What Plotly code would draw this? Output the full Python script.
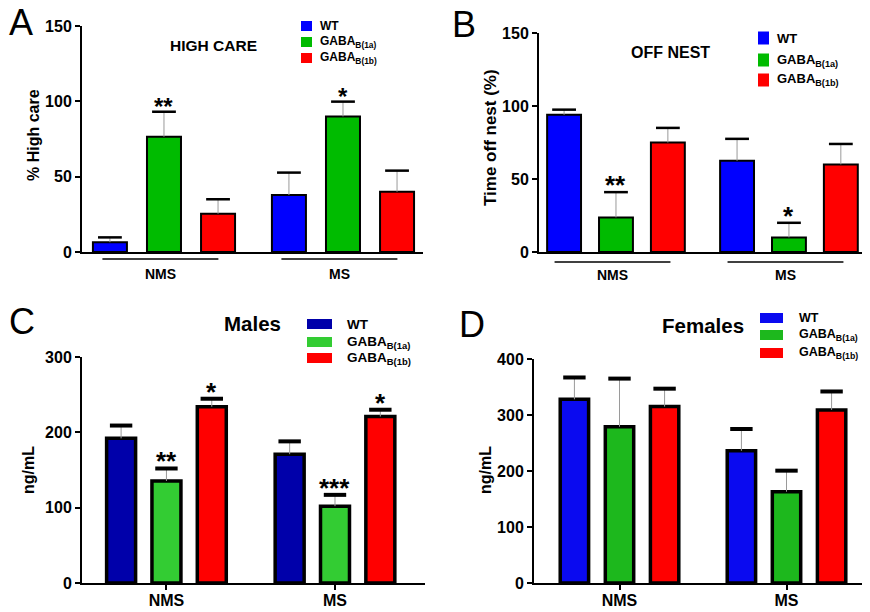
import plotly.graph_objects as go

# The page body has an 8px margin, so the figure is drawn 8px in from the window edge.
OFF = 8
W, H = 870 - OFF, 612 - OFF
FONT = "Liberation Sans, Arial, sans-serif"

groups = ["NMS", "MS"]
genotype_labels = ["WT", "GABA<sub>B(1a)</sub>", "GABA<sub>B(1b)</sub>"]

# ---------------- data ----------------
# Panel A: % High care
a_wt = [6.5, 37.8]
a_wt_sem = [3.2, 14.9]
a_1a = [76.5, 90.0]
a_1a_sem = [16.6, 9.8]
a_1b = [25.4, 40.0]
a_1b_sem = [9.6, 14.0]
a_stars_wt = ["", ""]
a_stars_1a = ["**", "*"]
a_stars_1b = ["", ""]

# Panel B: Time off nest (%)
b_wt = [94.0, 62.5]
b_wt_sem = [3.5, 15.0]
b_1a = [23.7, 10.0]
b_1a_sem = [17.3, 10.0]
b_1b = [75.0, 60.0]
b_1b_sem = [10.0, 14.0]
b_stars_wt = ["", ""]
b_stars_1a = ["**", "*"]
b_stars_1b = ["", ""]

# Panel C: Males, ng/mL
c_wt = [192.0, 171.0]
c_wt_sem = [17.0, 17.0]
c_1a = [135.4, 102.0]
c_1a_sem = [16.6, 15.0]
c_1b = [234.0, 221.0]
c_1b_sem = [10.6, 9.0]
c_stars_wt = ["", ""]
c_stars_1a = ["**", "***"]
c_stars_1b = ["*", "*"]

# Panel D: Females, ng/mL
d_wt = [328.0, 236.0]
d_wt_sem = [39.0, 39.0]
d_1a = [279.0, 163.0]
d_1a_sem = [86.0, 37.6]
d_1b = [315.0, 309.0]
d_1b_sem = [32.0, 33.0]
d_stars_wt = ["", ""]
d_stars_1a = ["", ""]
d_stars_1b = ["", ""]

# ---------------- layout helpers ----------------
def fx(px):
    return (px - OFF) / W


def fy(py):
    return 1 - (py - OFF) / H


panels = [
    dict(letter="A", letter_xy=(21, 22), title="HIGH CARE", title_xy=(213, 45), title_size=15.5,
         ylabel="% High care", ylabel_xy=(33, 135), ylabel_size=16, ymax=150, dtick=50,
         xdom=(82, 423), ydom=(252, 26), xrange=(-0.458, 1.447), slot=0.302, barw=0.19,
         colors=["#0000FF", "#00BB00", "#FF0000"], outline=2, capw=17, capt=2.5,
         series=[(a_wt, a_wt_sem, a_stars_wt), (a_1a, a_1a_sem, a_stars_1a), (a_1b, a_1b_sem, a_stars_1b)],
         underline=True, ul_y=259, ul_half=0.324, ul_shift=-0.02, lab_y=274,
         leg_sq=(301, 312, 10), leg_rows=(26, 42, 58), leg_tx=318, leg_size=12,
         star_size=24),
    dict(letter="B", letter_xy=(464, 25), title="OFF NEST", title_xy=(670, 52), title_size=16,
         ylabel="Time off nest (%)", ylabel_xy=(490, 138), ylabel_size=17, ymax=150, dtick=50,
         xdom=(539, 868), ydom=(252, 33), xrange=(-0.445, 1.457), slot=0.30, barw=0.196,
         colors=["#0000FF", "#00BB00", "#FF0000"], outline=2, capw=17, capt=2.5,
         series=[(b_wt, b_wt_sem, b_stars_wt), (b_1a, b_1a_sem, b_stars_1a), (b_1b, b_1b_sem, b_stars_1b)],
         underline=True, ul_y=262, ul_half=0.335, ul_shift=-0.02, lab_y=275,
         leg_sq=(758, 769, 13), leg_rows=(38, 60, 80), leg_tx=775, leg_size=13,
         star_size=26),
    dict(letter="C", letter_xy=(22, 321), title="Males", title_xy=(252, 323), title_size=20.5,
         ylabel="ng/mL", ylabel_xy=(28, 470), ylabel_size=16, ymax=300, dtick=100,
         xdom=(82, 425), ydom=(583, 357), xrange=(-0.501, 1.534), slot=0.269, barw=0.172,
         colors=["#0000AA", "#33CC33", "#FF0000"], outline=3.5, capw=16, capt=4,
         series=[(c_wt, c_wt_sem, c_stars_wt), (c_1a, c_1a_sem, c_stars_1a), (c_1b, c_1b_sem, c_stars_1b)],
         underline=False,
         leg_sq=(307, 332, 10), leg_rows=(324, 342, 358), leg_tx=345, leg_size=13.5,
         star_size=26),
    dict(letter="D", letter_xy=(472, 324), title="Females", title_xy=(703, 325), title_size=20.5,
         ylabel="ng/mL", ylabel_xy=(485, 470), ylabel_size=16, ymax=400, dtick=100,
         xdom=(534, 870), ydom=(583, 359), xrange=(-0.512, 1.5), slot=0.27, barw=0.17,
         colors=["#0A0AF0", "#1DB81D", "#FF0000"], outline=3.5, capw=16, capt=4,
         series=[(d_wt, d_wt_sem, d_stars_wt), (d_1a, d_1a_sem, d_stars_1a), (d_1b, d_1b_sem, d_stars_1b)],
         underline=False,
         leg_sq=(760, 783, 10), leg_rows=(318, 335, 353), leg_tx=797, leg_size=12.5,
         star_size=26),
]

fig = go.Figure()
annotations = []
shapes = []
layout_axes = {}

for i, p in enumerate(panels):
    n = "" if i == 0 else str(i + 1)
    xa, ya = "x" + n, "y" + n

    for k, (vals, sems, stars) in enumerate(p["series"]):
        xs = [g + (k - 1) * p["slot"] for g in range(len(groups))]
        fig.add_trace(go.Bar(
            x=xs, y=vals, width=p["barw"], xaxis=xa, yaxis=ya,
            marker=dict(color=p["colors"][k], line=dict(color="black", width=p["outline"])),
            error_y=dict(type="data", symmetric=False, array=sems, arrayminus=[0] * len(sems),
                         color="#9a9a9a", thickness=1, width=0),
            showlegend=False, hoverinfo="skip",
        ))
        tops = [v + s for v, s in zip(vals, sems)]
        fig.add_trace(go.Scatter(
            x=xs, y=tops, xaxis=xa, yaxis=ya, mode="markers",
            marker=dict(symbol="line-ew", size=p["capw"], line=dict(color="black", width=p["capt"])),
            showlegend=False, hoverinfo="skip", cliponaxis=False,
        ))
        for xv, t, st in zip(xs, tops, stars):
            if st:
                annotations.append(dict(
                    x=xv, y=t, xref=xa, yref=ya, text=st, showarrow=False,
                    yanchor="bottom", yshift=-10,
                    font=dict(family=FONT, size=p["star_size"], color="black", weight="bold"),
                ))

    layout_axes["xaxis" + n] = dict(
        domain=[max(0, fx(p["xdom"][0])), min(1, fx(p["xdom"][1]))], range=list(p["xrange"]), anchor=ya,
        automargin=False,
        showline=True, linecolor="black", linewidth=2, showgrid=False, zeroline=False,
        tickvals=list(range(len(groups))), ticktext=groups,
        ticks="" if p["underline"] else "outside", ticklen=5, tickwidth=2, tickcolor="black",
        showticklabels=not p["underline"], ticklabelstandoff=-3,
        tickfont=dict(family=FONT, size=16, color="black", weight="bold"),
    )
    layout_axes["yaxis" + n] = dict(
        domain=[fy(p["ydom"][0]), fy(p["ydom"][1])], range=[0, p["ymax"]], anchor=xa,
        automargin=False,
        showline=True, linecolor="black", linewidth=2, showgrid=False, zeroline=False,
        dtick=p["dtick"], ticks="outside", ticklen=5, tickwidth=2, tickcolor="black",
        tickfont=dict(family=FONT, size=16, color="black", weight="bold"),
    )

    if p["underline"]:
        for g, name in enumerate(groups):
            c = g + p["ul_shift"]
            shapes.append(dict(type="line", xref=xa, yref="paper",
                               x0=c - p["ul_half"], x1=c + p["ul_half"],
                               y0=fy(p["ul_y"]), y1=fy(p["ul_y"]),
                               line=dict(color="black", width=1.5)))
            annotations.append(dict(x=c, y=fy(p["lab_y"]), xref=xa, yref="paper", text=name,
                                    showarrow=False, yanchor="middle",
                                    font=dict(family=FONT, size=14, color="black", weight="bold")))

    # panel letter
    annotations.append(dict(x=fx(p["letter_xy"][0]), y=fy(p["letter_xy"][1]), xref="paper", yref="paper",
                            text=p["letter"], showarrow=False, xanchor="center", yanchor="middle",
                            font=dict(family=FONT, size=36, color="black")))
    # title
    annotations.append(dict(x=fx(p["title_xy"][0]), y=fy(p["title_xy"][1]), xref="paper", yref="paper",
                            text=p["title"], showarrow=False, xanchor="center", yanchor="middle",
                            font=dict(family=FONT, size=p["title_size"], color="black", weight="bold")))
    # y label
    annotations.append(dict(x=fx(p["ylabel_xy"][0]), y=fy(p["ylabel_xy"][1]), xref="paper", yref="paper",
                            text=p["ylabel"], showarrow=False, textangle=-90,
                            xanchor="center", yanchor="middle",
                            font=dict(family=FONT, size=p["ylabel_size"], color="black", weight="bold")))
    # legend
    x0, x1, h = p["leg_sq"]
    for k, (lab, row) in enumerate(zip(genotype_labels, p["leg_rows"])):
        shapes.append(dict(type="rect", xref="paper", yref="paper",
                           x0=fx(x0), x1=fx(x1), y0=fy(row + h / 2), y1=fy(row - h / 2),
                           fillcolor=p["colors"][k], line=dict(width=0)))
        annotations.append(dict(x=fx(p["leg_tx"]), y=fy(row), xref="paper", yref="paper",
                                text=lab, showarrow=False, xanchor="left", yanchor="middle",
                                font=dict(family=FONT, size=p["leg_size"], color="black", weight="bold")))

fig.update_layout(
    template="none",
    width=W, height=H, margin=dict(l=0, r=0, t=0, b=0, pad=0),
    paper_bgcolor="white", plot_bgcolor="white",
    barmode="overlay", showlegend=False,
    annotations=annotations, shapes=shapes,
    **layout_axes,
)

fig.write_html("out.html")
